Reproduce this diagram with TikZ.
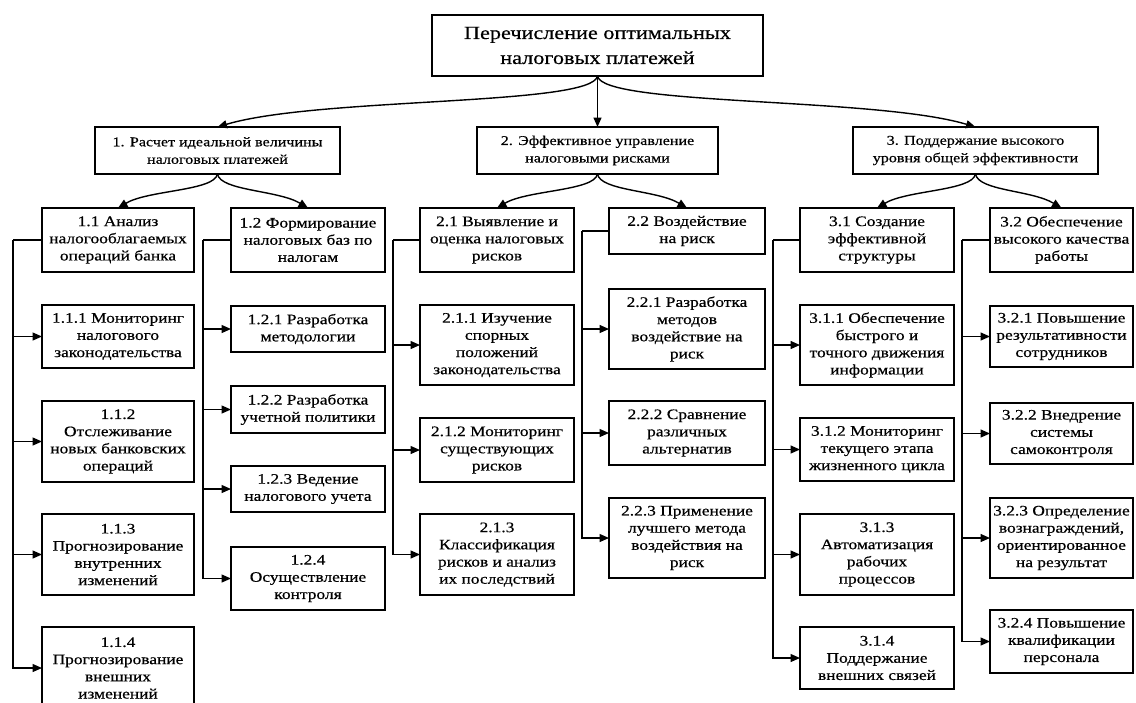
\documentclass[tikz,border=0pt]{standalone}
\usepackage{fontspec}
\setmainfont{Liberation Serif}[FakeStretch=1.2,FakeBold=0.5]
\usetikzlibrary{arrows.meta}
\tikzset{
  box/.style={draw, line width=2.1pt, inner sep=0pt, outer sep=0pt, align=center,
    font=\fontsize{14.5}{17.2}\selectfont},
  lone/.style={font=\fontsize{13.4}{17.5}\selectfont},
  ttl/.style={font=\fontsize{18.5}{25}\selectfont},
  arr/.style={line width=1.4pt, -{Triangle[length=9.5pt,width=8pt]}},
  ln/.style={line width=1.4pt}
}
\newcommand\bx[7][]{\node[box,#1,minimum width={(#5-#3)*1pt},minimum height={(#6-#4)*1pt}] (#2) at ({(#3+#5)/2},{(#4+#6)/2}) {#7};}
\begin{document}
\begin{tikzpicture}[x=1pt,y=-1pt]
\fill[white] (0,0) rectangle (1136,702);
\useasboundingbox (0,0) rectangle (1136,702);
% top
\bx[ttl]{top}{432}{15}{763}{76}{Перечисление оптимальных\\налоговых платежей}
% level 1
\bx[lone]{La}{95}{127}{340}{174}{1. Расчет идеальной величины\\налоговых платежей}
\bx[lone]{Lb}{477}{127}{718}{174}{2. Эффективное управление\\налоговыми рисками}
\bx[lone]{Lc}{853}{127}{1098}{174}{3. Поддержание высокого\\уровня общей эффективности}
% level 2
\bx{p11}{42}{208}{194}{272}{1.1 Анализ\\налогооблагаемых\\операций банка}
\bx{p12}{231}{208}{385}{272}{1.2 Формирование\\налоговых баз по\\налогам}
\bx{p21}{420}{208}{574}{272}{2.1 Выявление и\\оценка налоговых\\рисков}
\bx{p22}{609}{208}{765}{254}{2.2 Воздействие\\на риск}
\bx{p31}{800}{208}{954}{272}{3.1 Создание\\эффективной\\структуры}
\bx{p32}{990}{208}{1133}{272}{3.2 Обеспечение\\высокого качества\\работы}
% column 1.1
\bx{c111}{42}{305}{194}{368}{1.1.1 Мониторинг\\налогового\\законодательства}
\bx{c112}{42}{401}{194}{482}{1.1.2\\Отслеживание\\новых банковских\\операций}
\bx{c113}{42}{514}{194}{595}{1.1.3\\Прогнозирование\\внутренних\\изменений}
\bx{c114}{42}{627}{194}{709}{1.1.4\\Прогнозирование\\внешних\\изменений}
% column 1.2
\bx{c121}{231}{306}{385}{352}{1.2.1 Разработка\\методологии}
\bx{c122}{231}{386}{385}{433}{1.2.2 Разработка\\учетной политики}
\bx{c123}{231}{466}{385}{512}{1.2.3 Ведение\\налогового учета}
\bx{c124}{231}{547}{385}{610}{1.2.4\\Осуществление\\контроля}
% column 2.1
\bx{c211}{420}{305}{574}{385}{2.1.1 Изучение\\спорных\\положений\\законодательства}
\bx{c212}{420}{418}{574}{482}{2.1.2 Мониторинг\\существующих\\рисков}
\bx{c213}{420}{514}{574}{595}{2.1.3\\Классификация\\рисков и анализ\\их последствий}
% column 2.2
\bx{c221}{609}{289}{765}{369}{2.2.1 Разработка\\методов\\воздействие на\\риск}
\bx{c222}{609}{401}{765}{465}{2.2.2 Сравнение\\различных\\альтернатив}
\bx{c223}{609}{498}{765}{578}{2.2.3 Применение\\лучшего метода\\воздействия на\\риск}
% column 3.1
\bx{c311}{800}{305}{954}{385}{3.1.1 Обеспечение\\быстрого и\\точного движения\\информации}
\bx{c312}{800}{418}{954}{481}{3.1.2 Мониторинг\\текущего этапа\\жизненного цикла}
\bx{c313}{800}{514}{954}{595}{3.1.3\\Автоматизация\\рабочих\\процессов}
\bx{c314}{800}{627}{954}{689}{3.1.4\\Поддержание\\внешних связей}
% column 3.2
\bx{c321}{990}{306}{1133}{367}{3.2.1 Повышение\\результативности\\сотрудников}
\bx{c322}{990}{403}{1133}{464}{3.2.2 Внедрение\\системы\\самоконтроля}
\bx{c323}{990}{498}{1133}{578}{3.2.3 Определение\\вознаграждений,\\ориентированное\\на результат}
\bx{c324}{990}{610}{1133}{673}{3.2.4 Повышение\\квалификации\\персонала}

% top -> level 1
\draw[arr] (top.south) .. controls +(-5,30) and +(100,-30) .. (La.north);
\draw[arr] (top.south) -- (Lb.north);
\draw[arr] (top.south) .. controls +(5,30) and +(-100,-30) .. (Lc.north);
% level 1 -> level 2
\foreach \p/\a/\b in {La/p11/p12, Lb/p21/p22, Lc/p31/p32}{
  \draw[arr] (\p.south) .. controls +(-3,17) and +(30,-18) .. (\a.north);
  \draw[arr] (\p.south) .. controls +(3,17) and +(-30,-18) .. (\b.north);
}
% trunks
\foreach \p/\d/\kids in {p11/29/{c111,c112,c113,c114}, p12/28/{c121,c122,c123,c124},
    p21/27/{c211,c212,c213}, p22/27/{c221,c222,c223},
    p31/27/{c311,c312,c313,c314}, p32/28/{c321,c322,c323,c324}}{
  \coordinate (t\p) at ([xshift=-\d pt]\p.west);
  \draw[ln] (\p.west) -- (t\p);
  \foreach \c in \kids { \draw[arr] (t\p) |- (\c.west); }
}
\end{tikzpicture}
\end{document}
